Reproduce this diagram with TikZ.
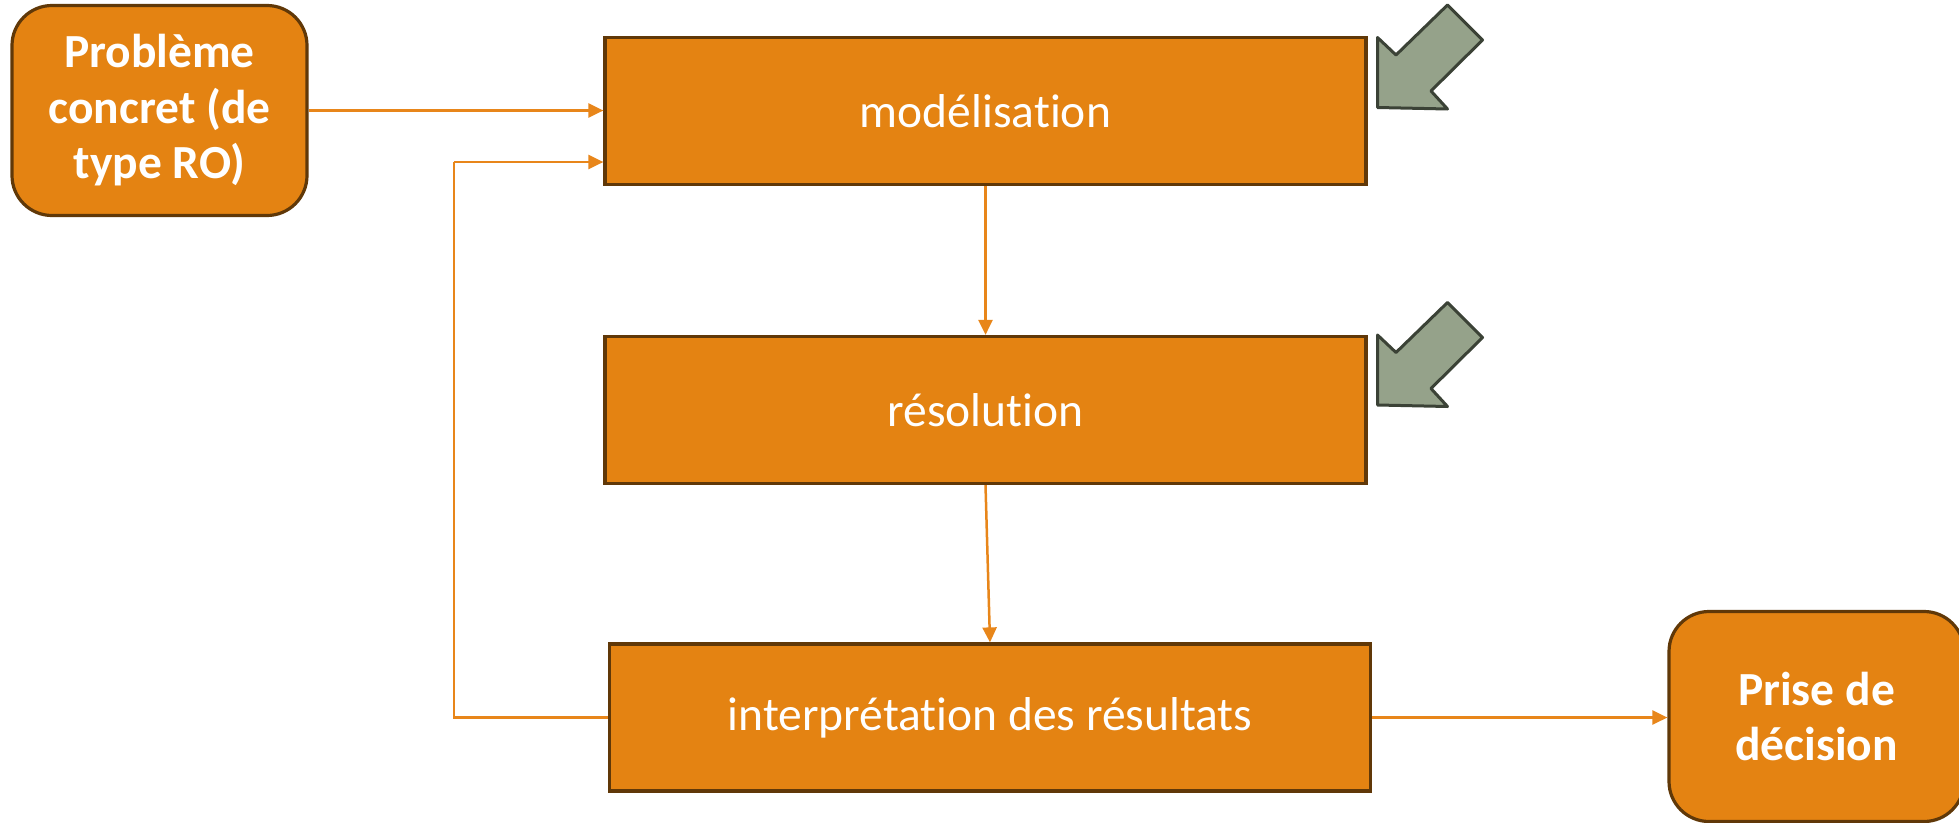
\documentclass[tikz,border=0pt]{standalone}
\usepackage{fontspec}
\setmainfont[Ligatures=NoCommon]{Carlito}
\usetikzlibrary{arrows.meta,calc}
\definecolor{boxfill}{HTML}{E48312}
\definecolor{boxline}{HTML}{603808}
\definecolor{conn}{HTML}{E8861A}
\definecolor{grfill}{HTML}{95A28A}
\definecolor{grline}{HTML}{3B4236}
\tikzset{
  stage/.style={draw=boxline, fill=boxfill, line width=3.2pt, minimum width=761pt, minimum height=147pt, text=white, font=\fontsize{47.5}{56}\selectfont, inner sep=0pt},
  endbox/.style={draw=boxline, fill=boxfill, line width=3.2pt, rounded corners=40pt, minimum width=295pt, minimum height=210pt, text=white, align=center, font=\fontsize{47.5}{55.5}\selectfont\bfseries, inner sep=0pt},
  link/.style={draw=conn, line width=2.5pt, -{Triangle[length=15pt,width=14pt]}},
  plainlink/.style={draw=conn, line width=2.5pt},
  bigarrow/.style={draw=grline, fill=grfill, line width=3pt, line join=round}
}
\begin{document}
\begin{tikzpicture}[x=1pt,y=-1pt]
\path[use as bounding box] (0,0) rectangle (1959,822);
\clip (0,0) rectangle (1959,822);
\node[endbox] (pb) at (159.5,110.5) {Problème\\concret (de\\type RO)};
\node[stage] (mod) at (985.5,111) {modélisation};
\node[stage] (res) at (985.5,410) {résolution};
\node[stage] (int) at (990,717.5) {interprétation des résultats};
\node[endbox] (dec) at (1816.5,716.5) {Prise de\\décision};
\coordinate (fbbot) at (454,717.5);
\coordinate (fbtop) at (454,162);
\draw[link] (pb.east) -- (pb.east -| mod.west);
\draw[link] (mod.south) -- (res.north);
\draw[link] (res.south) -- (int.north);
\draw[link] (int.east) -- (int.east -| dec.west);
\draw[plainlink] (int.west) -- (fbbot) -- (fbtop);
\draw[link] (fbtop) -- (fbtop -| mod.west);
\draw[bigarrow] (1377.5,37.5) -- (1396,55) -- (1447.5,5) -- (1482.5,40) -- (1431,91) -- (1447.5,109) -- (1377.5,107.5) -- cycle;
\draw[bigarrow] (1377.5,335) -- (1396,352.5) -- (1447.5,302.5) -- (1482.5,337.5) -- (1431,388.5) -- (1447.5,406.5) -- (1377.5,405) -- cycle;
\end{tikzpicture}
\end{document}
